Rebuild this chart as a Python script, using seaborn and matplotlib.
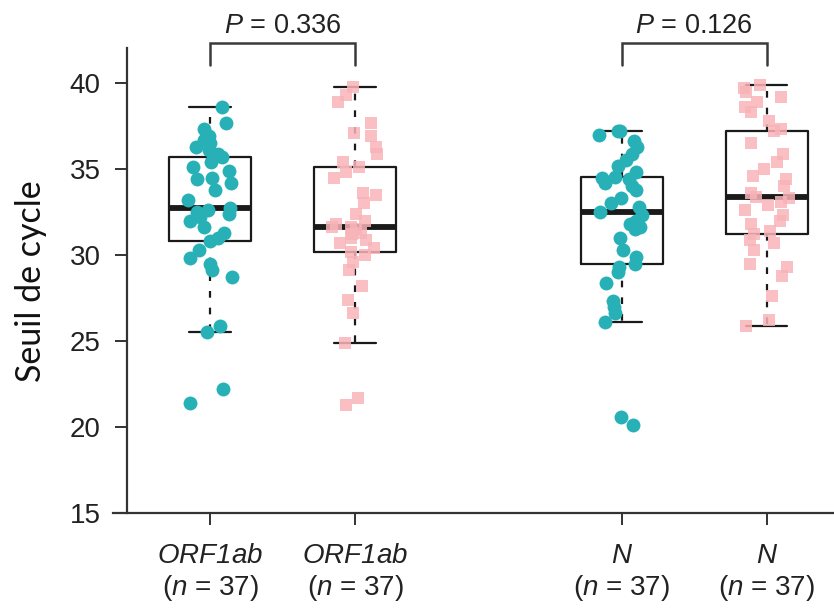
import numpy as np
import pandas as pd
import matplotlib
matplotlib.use("Agg")
import matplotlib.pyplot as plt
import seaborn as sns

# ---------------- data ----------------
genes = ["ORF1ab", "ORF1ab", "N", "N"]
n_counts = [37, 37, 37, 37]
p_values = ["0.336", "0.126"]
y_label = "Seuil de cycle"
y_ticks = [15, 20, 25, 30, 35, 40]

orf1ab_teal = [21.4, 22.2, 25.5, 25.9, 28.7, 29.1, 29.5, 29.8, 30.3, 30.8,
               31.0, 31.3, 31.6, 32.0, 32.2, 32.4, 32.5, 32.6, 32.75, 33.2,
               33.8, 34.2, 34.4, 34.5, 34.9, 35.1, 35.4, 35.7, 35.9, 36.1,
               36.3, 36.5, 36.7, 36.9, 37.3, 37.7, 38.6]
orf1ab_pink = [21.3, 21.7, 24.9, 26.6, 27.4, 28.2, 29.1, 29.6, 30.0, 30.2,
               30.4, 30.7, 30.9, 31.0, 31.2, 31.3, 31.5, 31.6, 31.65, 31.8,
               32.0, 32.4, 33.0, 33.5, 33.6, 34.5, 34.8, 35.1, 35.4, 35.9,
               36.3, 36.9, 37.1, 37.7, 38.9, 39.3, 39.75]
n_teal = [20.1, 20.6, 26.1, 26.6, 27.0, 27.3, 28.4, 29.0, 29.3, 29.5,
          29.9, 30.3, 31.0, 31.5, 31.6, 31.8, 32.0, 32.3, 32.5, 32.8,
          33.0, 33.3, 33.8, 34.0, 34.2, 34.4, 34.5, 34.55, 34.8, 35.2,
          35.5, 35.9, 36.3, 36.6, 37.0, 37.2, 37.2]
n_pink = [25.9, 26.2, 27.6, 28.8, 29.3, 29.5, 30.3, 30.7, 30.9, 31.2,
          31.4, 31.8, 32.0, 32.3, 32.6, 32.9, 33.1, 33.3, 33.4, 33.6,
          34.0, 34.4, 34.6, 35.0, 35.4, 35.9, 36.5, 37.2, 37.3, 37.8,
          38.3, 38.6, 38.9, 39.2, 39.5, 39.7, 39.9]

series = [orf1ab_teal, orf1ab_pink, n_teal, n_pink]

# ---------------- layout / style ----------------
positions = [0.0, 1.0, 2.84, 3.84]
colors = ["#27B1B7", "#F8B4B8", "#27B1B7", "#F8B4B8"]
markers = ["o", "s", "o", "s"]
msizes = [10, 8.6, 10, 8.6]
alphas = [1.0, 0.85, 1.0, 0.85]
axis_col = "#333333"

sns.set_style("ticks")
plt.rcParams["font.family"] = ["Liberation Sans", "DejaVu Sans"]
plt.rcParams["mathtext.fontset"] = "custom"
plt.rcParams["mathtext.sf"] = "Liberation Sans:italic"
plt.rcParams["mathtext.it"] = "Liberation Sans:italic"
plt.rcParams["mathtext.rm"] = "Liberation Sans"
plt.rcParams["mathtext.default"] = "regular"

W, H = 834, 611
fig = plt.figure(figsize=(W / 100, H / 100), dpi=100)
ax_left_px, ax_bottom_px, ax_top_px = 113, 513, 48
ax = fig.add_axes([ax_left_px / W, 1 - ax_bottom_px / H,
                   1 - ax_left_px / W, (ax_bottom_px - ax_top_px) / H])

df = pd.DataFrame({
    "pos": np.concatenate([[p] * len(v) for p, v in zip(positions, series)]),
    "ct": np.concatenate(series),
})

sns.boxplot(data=df, x="pos", y="ct", native_scale=True, orient="x",
            width=0.566, fill=False, color="#1a1a1a", showfliers=False,
            linewidth=1.6,
            medianprops=dict(linewidth=4.2, solid_capstyle="butt"),
            whiskerprops=dict(linestyle=(0, (3, 4.5))),
            ax=ax, zorder=2)

np.random.seed(7)
for p, v, c, m, s, a in zip(positions, series, colors, markers, msizes, alphas):
    sns.stripplot(x=[p] * len(v), y=v, native_scale=True, orient="x",
                  jitter=0.16, color=c, marker=m, size=s, linewidth=0,
                  alpha=a, ax=ax, zorder=3)

# axes limits (px -> data)
px_per_x = 145.0
x0_px = 210.0
ax.set_xlim((ax_left_px - x0_px) / px_per_x, (W - x0_px) / px_per_x)
px_per_y = 17.2
ax.set_ylim(15, 40 + (83 - ax_top_px) / px_per_y)

ax.spines["top"].set_visible(False)
ax.spines["right"].set_visible(False)
ax.spines["left"].set_position(("data", (127 - x0_px) / px_per_x))
for sp in ["left", "bottom"]:
    ax.spines[sp].set_color(axis_col)
    ax.spines[sp].set_linewidth(1.6)

ax.set_yticks(y_ticks)
ax.set_yticklabels([str(t) for t in y_ticks])
ax.set_xticks(positions)
ax.set_xticklabels([r"$\mathsf{" + g + "}$" + "\n" + r"($\mathsf{n}$ = " + str(n) + ")"
                    for g, n in zip(genes, n_counts)], linespacing=1.2)
ax.tick_params(axis="both", length=8.6, width=1.4, color=axis_col,
               labelsize=20, labelcolor="#222222", pad=10.5)
ax.tick_params(axis="x", pad=13)
ax.set_xlabel("")
ax.set_ylabel("")

# significance brackets
y_bar = 40 + (83 - 43) / px_per_y
y_leg = 40 + (83 - 65) / px_per_y
y_txt = 40 + (83 - 33) / px_per_y
for i, pv in enumerate(p_values):
    xa, xb = positions[2 * i], positions[2 * i + 1]
    ax.plot([xa, xa, xb, xb], [y_leg, y_bar, y_bar, y_leg], color="#3a3a3a",
            lw=1.8, clip_on=False, solid_joinstyle="miter")
    ax.text((xa + xb) / 2, y_txt, r"$\mathsf{P}$ = " + pv, ha="center",
            va="baseline", fontsize=19.5, color="#222222", clip_on=False)

fig.text(31 / W, 1 - 281 / H, y_label, rotation=90, ha="center", va="center",
         fontsize=24.5, family=["Lato", "DejaVu Sans"], color="#111111")

fig.savefig("out.png", dpi=100)
